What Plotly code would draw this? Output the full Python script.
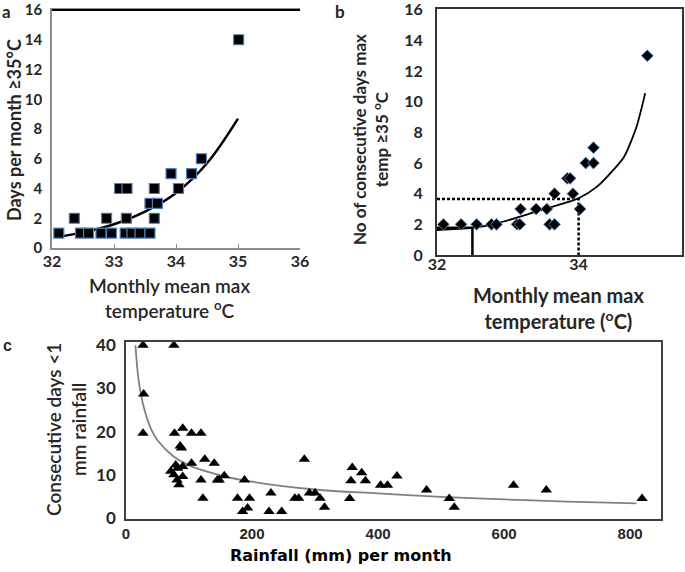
import plotly.graph_objects as go

# ---- panel a: days per month >= 35 C vs monthly mean max temperature
a_temp = [32.11, 32.36, 32.46, 32.59, 32.79, 32.88, 32.96, 33.09, 33.21, 33.18, 33.20,
          33.29, 33.42, 33.58, 33.58, 33.65, 33.65, 33.70, 33.92, 34.04, 34.25, 34.41, 35.01]
a_days = [1, 2, 1, 1, 1, 2, 1, 4, 4, 1, 2, 1, 1, 1, 3, 4, 2, 3, 5, 4, 5, 6, 14]
a_fit_temp = [32.1, 32.5, 33.0, 33.5, 34.0, 34.5, 35.0]
a_fit_days = [0.75, 1.05, 1.6, 2.45, 3.7, 5.7, 8.7]
a_ticks_x = [32, 33, 34, 35, 36]
a_ticks_y = [0, 2, 4, 6, 8, 10, 12, 14, 16]

# ---- panel b: consecutive days >= 35 C
b_temp = [32.09, 32.34, 32.56, 32.77, 32.84, 33.13, 33.17, 33.18, 33.40, 33.55, 33.59,
          33.66, 33.66, 33.84, 33.88, 33.92, 34.02, 34.10, 34.21, 34.21, 34.97]
b_days = [2, 2, 2, 2, 2, 2, 2, 3, 3, 3, 2, 2, 4, 5, 5, 4, 3, 6, 6, 7, 13]
b_fit_temp = [32.0, 32.52, 32.85, 33.32, 33.79, 34.0, 34.26, 34.49, 34.64, 34.73, 34.82, 34.94]
b_fit_days = [1.63, 1.78, 2.07, 2.72, 3.37, 3.7, 4.46, 5.55, 6.4, 7.3, 8.4, 10.56]
b_hi_x, b_hi_y = [32.0, 34.0, 34.0], [3.65, 3.65, 0]
b_lo_x, b_lo_y = [32.0, 32.5, 32.5], [1.78, 1.78, 0]
b_ticks_x = [32, 34]
b_ticks_y = [0, 2, 4, 6, 8, 10, 12, 14, 16]

# ---- panel c: consecutive dry days vs rainfall
c_rain = [27, 76, 28, 27, 77, 90, 104, 119, 86, 88, 71, 79, 82, 90, 76, 81, 90, 84, 104,
          125, 140, 119, 122, 145, 148, 156, 188, 177, 185, 193, 196, 230, 227, 247, 268,
          274, 283, 291, 300, 308, 315, 355, 359, 357, 374, 380, 404, 415, 430, 477, 513,
          521, 615, 667, 819]
c_days = [40, 40, 28.7, 19.6, 19.6, 20.8, 19.6, 19.6, 16.7, 16.2, 10.8, 12.3, 11.5, 11.9,
          10, 8.8, 9.6, 7.7, 12.7, 13.6, 12.7, 8.8, 4.6, 8.8, 8.8, 9.8, 8.8, 4.6, 1.5, 2.3,
          4.6, 5.8, 1.5, 1.5, 4.6, 4.6, 13.6, 5.8, 5.8, 4.6, 2.5, 4.5, 11.7, 8.6, 10.5, 8.6,
          7.6, 7.6, 9.7, 6.5, 4.5, 2.5, 7.6, 6.5, 4.5]
c_fit_rain = [15, 20, 28, 40, 50, 75, 100, 150, 200, 300, 400, 500, 600, 700, 810]
c_fit_days = [40, 32, 25.8, 20.5, 18, 14.3, 12.2, 9.9, 8.4, 6.6, 5.7, 4.9, 4.3, 3.8, 3.4]
c_ticks_x = [0, 200, 400, 600, 800]
c_ticks_y = [0, 10, 20, 30, 40]

W, H = 685, 572
BLUE_EDGE = "#4f81bd"
TXT = "#262626"


def px(x):
    return x / W


def py(y):
    return 1 - y / H


def lato(size, weight="bold", color=TXT):
    return dict(family="Lato", size=size, color=color, weight=weight)


fig = go.Figure()

fig.add_trace(go.Scatter(
    x=a_fit_temp, y=a_fit_days, mode="lines", line=dict(color="black", width=2.5, shape="spline"),
    xaxis="x", yaxis="y", hoverinfo="skip"))
fig.add_trace(go.Scatter(
    x=a_temp, y=a_days, mode="markers",
    marker=dict(symbol="square", size=10, color="black", line=dict(color=BLUE_EDGE, width=1.2)),
    xaxis="x", yaxis="y"))

fig.add_trace(go.Scatter(
    x=b_hi_x, y=b_hi_y, mode="lines", line=dict(color="black", width=2.5, dash="3px,2px"),
    xaxis="x2", yaxis="y2", hoverinfo="skip"))
fig.add_trace(go.Scatter(
    x=b_lo_x, y=b_lo_y, mode="lines", line=dict(color="black", width=2.5),
    xaxis="x2", yaxis="y2", hoverinfo="skip"))
fig.add_trace(go.Scatter(
    x=b_fit_temp, y=b_fit_days, mode="lines", line=dict(color="black", width=1.8, shape="spline"),
    xaxis="x2", yaxis="y2", hoverinfo="skip"))
fig.add_trace(go.Scatter(
    x=b_temp, y=b_days, mode="markers",
    marker=dict(symbol="diamond", size=9, color="black", line=dict(color=BLUE_EDGE, width=1)),
    xaxis="x2", yaxis="y2"))

fig.add_trace(go.Scatter(
    x=c_fit_rain, y=c_fit_days, mode="lines", line=dict(color="#808080", width=1.8, shape="spline"),
    xaxis="x3", yaxis="y3", hoverinfo="skip"))
fig.add_trace(go.Scatter(
    x=c_rain, y=c_days, mode="markers",
    marker=dict(symbol="triangle-up", size=10, color="black"),
    xaxis="x3", yaxis="y3", cliponaxis=False))

fig.update_layout(
    width=W, height=H, margin=dict(l=0, r=0, t=0, b=0, autoexpand=False),
    paper_bgcolor="white", plot_bgcolor="white", showlegend=False,
    xaxis=dict(domain=[px(52), px(300)], range=[32, 36], tickvals=a_ticks_x,
               showgrid=False, zeroline=False, showline=True, linecolor="#8c8c8c", linewidth=1.5,
               mirror=True, ticks="inside", ticklen=4, tickcolor="#8c8c8c",
               tickfont=lato(16), ticklabelstandoff=-2, anchor="y", automargin=False,
               ticklabeloverflow="allow"),
    yaxis=dict(domain=[py(248), py(10)], range=[0, 16], tickvals=a_ticks_y,
               showgrid=False, zeroline=False, showline=True, linecolor="#8c8c8c", linewidth=1.5,
               ticks="", tickfont=lato(15), ticklabelstandoff=5, anchor="x", automargin=False,
               ticklabeloverflow="allow"),
    xaxis2=dict(domain=[px(437), px(682)], range=[32, 35.46], tickvals=b_ticks_x,
                showgrid=False, zeroline=False, showline=True, linecolor="#333333", linewidth=2,
                mirror=True, ticks="", tickfont=lato(16), ticklabelstandoff=-6, anchor="y2",
                automargin=False, ticklabeloverflow="allow"),
    yaxis2=dict(domain=[py(255), py(9)], range=[0, 16.05], tickvals=b_ticks_y,
                showgrid=False, zeroline=False, showline=True, linecolor="#333333", linewidth=2,
                mirror=True, ticks="", tickfont=lato(16), ticklabelstandoff=9, anchor="x2",
                automargin=False, ticklabeloverflow="allow"),
    xaxis3=dict(domain=[px(126), px(661)], range=[0, 849], tickvals=c_ticks_x,
                showgrid=False, zeroline=False, showline=True, linecolor="#404040", linewidth=1.5,
                mirror=True, ticks="",
                tickfont=dict(family="Liberation Sans", size=15, color=TXT, weight="bold"),
                anchor="y3", automargin=False, ticklabeloverflow="allow"),
    yaxis3=dict(domain=[py(519), py(342)], range=[-0.23, 40.76], tickvals=c_ticks_y,
                showgrid=False, zeroline=False, showline=True, linecolor="#404040", linewidth=1.5,
                mirror=True, ticks="", tickfont=lato(17), ticklabelstandoff=5, anchor="x3",
                automargin=False, ticklabeloverflow="allow"),
)

# black top border of panel a
fig.add_shape(type="line", xref="x domain", yref="y domain", x0=0, x1=1, y0=1, y1=1,
              line=dict(color="black", width=2))

notes = [
    dict(text="a", x=px(6), y=py(11), font=lato(17)),
    dict(text="b", x=px(340), y=py(11), font=lato(17)),
    dict(text="c", x=px(7), y=py(345),
         font=dict(family="Liberation Sans", size=16, color=TXT, weight="bold")),
    dict(text="Days per month ≥35°C", x=px(14), y=py(130), textangle=-90, font=lato(18)),
    dict(text="Monthly mean max<br>temperature <sup>o</sup>C", x=px(169), y=py(298),
         font=lato(19, 600)),
    dict(text="No of consecutive days max<br>temp ≥35 <sup>o</sup>C", x=px(370), y=py(140),
         textangle=-90, font=lato(17)),
    dict(text="Monthly mean max<br>temperature (<sup>o</sup>C)", x=px(558), y=py(308),
         font=lato(20)),
    dict(text="Consecutive days <1<br>mm rainfall", x=px(66), y=py(430), textangle=-90,
         font=lato(19, 600)),
    dict(text="Rainfall (mm) per month", x=px(341), y=py(555),
         font=dict(family="DejaVu Sans", size=16, color="black", weight="bold")),
]
for n in notes:
    fig.add_annotation(xref="paper", yref="paper", showarrow=False, xanchor="center",
                       yanchor="middle", **n)

# the page body has a default 8px margin that would push the figure off its spot
fig.write_html("out.html", config={"displayModeBar": False},
               post_script="document.body.style.margin = '0';")
